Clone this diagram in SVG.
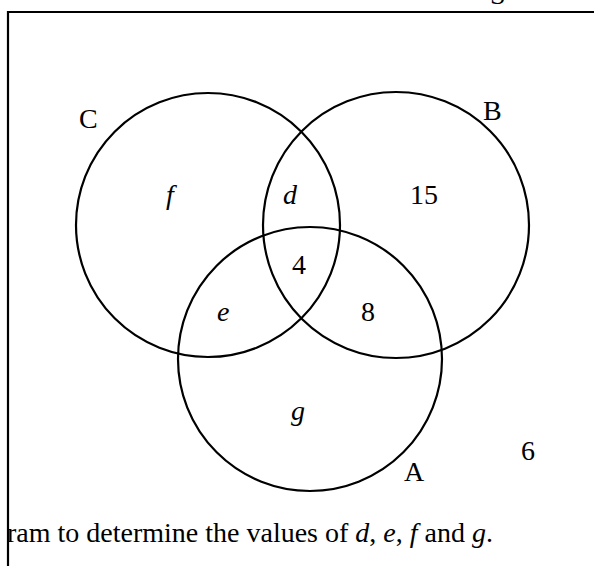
<svg xmlns="http://www.w3.org/2000/svg" width="594" height="566" viewBox="0 0 594 566">
<style>
.t{font-family:"Liberation Serif","Times New Roman",serif;font-size:28px;fill:#000}
.i{font-style:italic}
.c{fill:none;stroke:#000;stroke-width:2.2}
.f{fill:none;stroke:#000;stroke-width:2.2}
</style>
<rect width="594" height="566" fill="#fff"/>
<g id="frame">
<path class="f" d="M8,566 V12 H594"/>
<text class="t" x="490" y="4">S</text>
</g>
<g id="setC">
<circle class="c" cx="208" cy="225" r="132"/>
<text class="t" x="79" y="128">C</text>
</g>
<g id="setB">
<circle class="c" cx="396" cy="225" r="133"/>
<text class="t" x="483" y="120">B</text>
</g>
<g id="setA">
<circle class="c" cx="310" cy="359" r="132"/>
<text class="t" x="404" y="481">A</text>
</g>
<g id="regions">
<text class="t i" x="166" y="204">f</text>
<text class="t i" x="283" y="204">d</text>
<text class="t" x="410" y="204">15</text>
<text class="t" x="292" y="274">4</text>
<text class="t i" x="217" y="321">e</text>
<text class="t" x="361" y="321">8</text>
<text class="t i" x="291" y="420">g</text>
<text class="t" x="521" y="460">6</text>
</g>
<g id="caption">
<text class="t" x="7" y="542">ram to determine the values of <tspan class="i">d</tspan>, <tspan class="i">e</tspan>, <tspan class="i">f</tspan> and <tspan class="i">g</tspan>.</text>
</g>
</svg>
